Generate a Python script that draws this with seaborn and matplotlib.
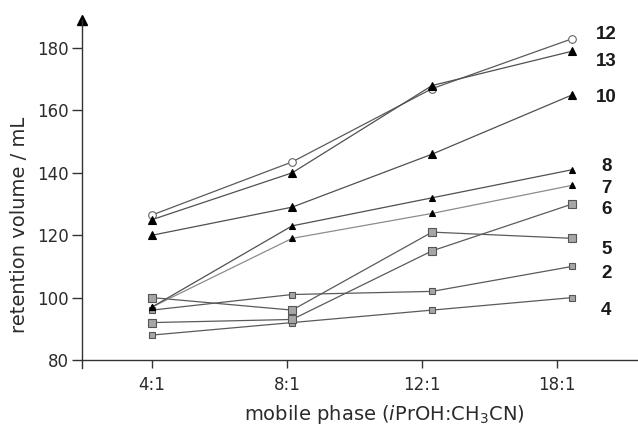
import numpy as np
import pandas as pd
import seaborn as sns
import matplotlib
matplotlib.use('Agg')
import matplotlib.pyplot as plt

# --- data ---
phases = ['4:1', '8:1', '12:1', '18:1']
series_ids = ['12', '13', '10', '8', '7', '6', '5', '2', '4']
vol_12 = [126.5, 143.5, 167, 183]
vol_13 = [125, 140, 168, 179]
vol_10 = [120, 129, 146, 165]
vol_8 = [97, 123, 132, 141]
vol_7 = [97, 119, 127, 136]
vol_6 = [92, 93, 115, 130]
vol_5 = [100, 96, 121, 119]
vol_2 = [96, 101, 102, 110]
vol_4 = [88, 92, 96, 100]

values = {'12': vol_12, '13': vol_13, '10': vol_10, '8': vol_8, '7': vol_7,
          '6': vol_6, '5': vol_5, '2': vol_2, '4': vol_4}

rows = []
for sid in series_ids:
    for i, ph in enumerate(phases):
        rows.append({'series': sid, 'pos': i, 'phase': ph, 'volume': values[sid][i]})
df = pd.DataFrame(rows)

# marker styles per series
sq_fill = '#a6a6a6'
styles = {
    '12': dict(marker='o', ms=5.5, mfc='white', mec='#666666', color='#5a5a5a', z=4),
    '13': dict(marker='^', ms=5.5, mfc='black', mec='black', color='#505050', z=5),
    '10': dict(marker='^', ms=5.5, mfc='black', mec='black', color='#505050', z=5),
    '8':  dict(marker='^', ms=4.8, mfc='black', mec='black', color='#505050', z=5),
    '7':  dict(marker='^', ms=3.8, mfc='black', mec='black', color='#8c8c8c', z=5),
    '6':  dict(marker='s', ms=5.8, mfc=sq_fill, mec='#555555', color='#5a5a5a', z=3),
    '5':  dict(marker='s', ms=5.8, mfc=sq_fill, mec='#555555', color='#5a5a5a', z=3),
    '2':  dict(marker='s', ms=4.8, mfc=sq_fill, mec='#555555', color='#5a5a5a', z=3),
    '4':  dict(marker='s', ms=4.5, mfc=sq_fill, mec='#555555', color='#5a5a5a', z=3),
}
# label nudges in pixels relative to last point
label_nudge = {'12': -4, '13': 10, '10': 3, '8': -3, '7': 3,
               '6': 5, '5': 11, '2': 7, '4': 13}

sns.set_theme(style='ticks')
plt.rcParams['font.family'] = ['DejaVu Sans']
text_col = '#2b2b2b'

fig = plt.figure(figsize=(6.38, 4.28), dpi=100)
ax = fig.add_axes([81.5 / 638, 60 / 428, 1 - 81.5 / 638, 348 / 428])

for sid in reversed(series_ids):
    st = styles[sid]
    sub = df[df['series'] == sid]
    sns.lineplot(data=sub, x='pos', y='volume', ax=ax, sort=False,
                 color=st['color'], linewidth=0.9, marker=st['marker'],
                 markersize=st['ms'], markerfacecolor=st['mfc'],
                 markeredgecolor=st['mec'], markeredgewidth=0.8,
                 legend=False, zorder=st['z'])

for sid in series_ids:
    ax.annotate(sid, xy=(len(phases) - 1, values[sid][-1]),
                xytext=(34, -label_nudge[sid]), textcoords='offset pixels',
                ha='center', va='center', fontsize=13.5, fontweight='bold',
                family='Liberation Sans', color='#1a1a1a')

ax.set_xlim(-0.504, 3.47)
ax.set_ylim(77.44, 189.0)
ax.spines['bottom'].set_position(('data', 80))
ax.spines['top'].set_visible(False)
ax.spines['right'].set_visible(False)
for sp in ['left', 'bottom']:
    ax.spines[sp].set_color('#333333')
    ax.spines[sp].set_linewidth(1.0)

# tick marks in the original sit a bit left of the plotted points
ax.set_xticks(np.arange(len(phases)) * 0.964)
ax.set_xticklabels(phases)
ax.set_yticks([80, 100, 120, 140, 160, 180])
ax.tick_params(axis='both', direction='out', width=1, color='#333333',
               labelsize=12, labelcolor=text_col)
ax.tick_params(axis='y', length=7, pad=2)
ax.tick_params(axis='x', length=5.5, pad=6)

ax.set_xlabel('mobile phase ($\\it{i}$PrOH:CH$_3$CN)', fontsize=14,
              color=text_col)
ax.xaxis.set_label_coords(0.5436, -0.1)
ax.set_ylabel('retention volume / mL', fontsize=14, color=text_col)
ax.yaxis.set_label_coords(-0.094, 0.41)

# arrow head at top of y axis
ax.plot(0, 1, marker='^', color='black', markersize=7, transform=ax.transAxes,
        clip_on=False)

fig.savefig('out.png', dpi=100)
